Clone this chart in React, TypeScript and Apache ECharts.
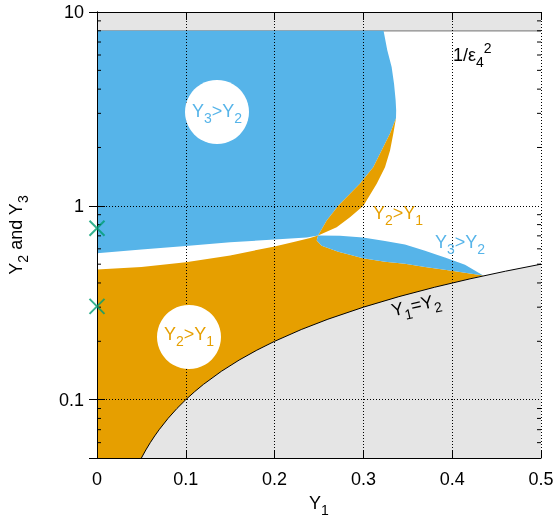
import React, { useEffect, useRef } from "react";
import * as echarts from "echarts";

const BLUE = "#56b4e9";
const ORANGE = "#e69f00";
const GREEN = "#009e73";
const GREY = "#e5e5e5";
const FONT = "'Liberation Sans', Arial, Helvetica, sans-serif";

// axis ranges
const xMin = 0;
const xMax = 0.5;
const xInterval = 0.1;
const yMin = 0.05;
const yMax = 10;
const yTickLabels = [0.1, 1, 10];
const minorTickValues = [0.06, 0.07, 0.08, 0.09, 0.2, 0.3, 0.4, 0.5, 0.6, 0.7, 0.8, 0.9, 2, 3, 4, 5, 6, 7, 8, 9];

// 1/eps4^2 limit
const epsilonLimit = 8;

// green markers at Y1 = 0
const markerY = [0.766, 0.303];

// Y1 = Y2 curve
const equalLine: number[][] = [
  [0.05, 0.05], [0.055, 0.055], [0.06, 0.06], [0.065, 0.065], [0.07, 0.07], [0.08, 0.08],
  [0.09, 0.09], [0.1, 0.1], [0.11, 0.11], [0.12, 0.12], [0.14, 0.14], [0.16, 0.16],
  [0.18, 0.18], [0.2, 0.2], [0.23, 0.23], [0.26, 0.26], [0.3, 0.3], [0.34, 0.34],
  [0.38, 0.38], [0.42, 0.42], [0.46, 0.46], [0.5, 0.5],
];

// upper edge of the lower orange region (Y2>Y1)
const orangeTopEdge: number[][] = [
  [0, 0.469], [0.05, 0.483], [0.1, 0.511], [0.15, 0.555], [0.2, 0.617],
  [0.225, 0.657], [0.24, 0.683], [0.249, 0.702],
];
// lower edge of the big blue region (Y3>Y2)
const blueBottomEdge: number[][] = [
  [0, 0.569], [0.05, 0.595], [0.1, 0.621], [0.15, 0.649], [0.2, 0.67], [0.236, 0.687], [0.249, 0.702],
];
// right edge of the big blue region, above the wedge tip
const blueOuterEdge: number[][] = [
  [0.3227, 8], [0.3269, 6.35], [0.3318, 5.2], [0.3345, 4.27], [0.3363, 3.5], [0.3369, 3.1], [0.3367, 2.83],
];
// orange wedge: outer (right) edge, from tip to crossing
const wedgeOuterEdge: number[][] = [
  [0.3367, 2.83], [0.3337, 2.36], [0.33, 1.93], [0.3243, 1.58], [0.315, 1.3], [0.3, 1.0],
  [0.2849, 0.873], [0.2699, 0.775], [0.249, 0.702],
];
// orange wedge: inner (left) edge, from tip to crossing
const wedgeInnerEdge: number[][] = [
  [0.3367, 2.83], [0.33, 2.36], [0.3111, 1.58], [0.296, 1.3], [0.2717, 1.0], [0.2587, 0.839], [0.249, 0.702],
];
// small blue lens (Y3>Y2)
const lensTopEdge: number[][] = [
  [0.249, 0.702], [0.2736, 0.701], [0.2995, 0.686], [0.3243, 0.658], [0.3468, 0.631],
  [0.3694, 0.586], [0.3919, 0.541], [0.4144, 0.497], [0.435, 0.437],
];
const lensBottomEdge: number[][] = [
  [0.249, 0.702], [0.2474, 0.662], [0.253, 0.623], [0.2717, 0.58], [0.2995, 0.537],
  [0.3243, 0.515], [0.3468, 0.503], [0.3694, 0.483], [0.3994, 0.463], [0.435, 0.437],
];

const tip = lensTopEdge[lensTopEdge.length - 1];

const topBand = [[xMin, epsilonLimit], [xMax, epsilonLimit], [xMax, yMax], [xMin, yMax]];
const greyLower = [...equalLine, [xMax, yMin]];
const orangeLower = [
  [xMin, yMin],
  ...orangeTopEdge,
  ...lensBottomEdge.slice(1),
  ...equalLine.filter((p) => p[0] < tip[0]).reverse(),
];
const bigBlue = [
  [xMin, epsilonLimit],
  ...blueOuterEdge,
  ...wedgeInnerEdge.slice(1),
  ...blueBottomEdge.slice().reverse().slice(1),
];
const wedge = [...wedgeOuterEdge, ...wedgeInnerEdge.slice().reverse().slice(1, -1)];
const lens = [...lensTopEdge, ...lensBottomEdge.slice().reverse().slice(1, -1)];

// rich styles for axis names (echarts text style)
const richAxis = (color: string) => ({
  a: { fontSize: 18, lineHeight: 28, verticalAlign: "middle", color, fontFamily: FONT },
  s: { fontSize: 14, verticalAlign: "bottom", color, fontFamily: FONT },
  p: { fontSize: 14, verticalAlign: "top", color, fontFamily: FONT },
});
// rich styles for graphic texts (zrender style)
const richG = (color: string) => ({
  a: { fontSize: 18, lineHeight: 28, verticalAlign: "middle", fill: color, fontFamily: FONT },
  s: { fontSize: 14, verticalAlign: "bottom", fill: color, fontFamily: FONT },
  p: { fontSize: 14, verticalAlign: "top", fill: color, fontFamily: FONT },
});

function polygonSeries(name: string, pts: number[][], fill: string, z: number, edge?: string) {
  return {
    type: "custom",
    name,
    coordinateSystem: "cartesian2d",
    xAxisIndex: 0,
    yAxisIndex: 0,
    data: [[pts[0][0], pts[0][1]]],
    z,
    silent: true,
    clip: true,
    renderItem: (_params: any, api: any) => {
      const points = pts.map((p) => api.coord(p));
      const children: any[] = [
        { type: "polygon", shape: { points }, style: { fill, stroke: null } },
      ];
      if (edge) {
        const a = api.coord([xMin, epsilonLimit]);
        const b = api.coord([xMax, epsilonLimit]);
        children.push({
          type: "line",
          shape: { x1: a[0], y1: a[1], x2: b[0], y2: b[1] },
          style: { stroke: edge, lineWidth: 1.2 },
        });
      }
      return { type: "group", children };
    },
  };
}

export default function App() {
  const ref = useRef<HTMLDivElement>(null);
  useEffect(() => {
    if (!ref.current) return;
    const chart = echarts.init(ref.current, undefined, { renderer: "svg" });
    const axisLineStyle = { color: "#000", width: 1 };
    const gridStyle = { color: "#000", width: 1, type: [1, 2] as any };
    const yLabelFormatter = (v: number) => {
      const hit = yTickLabels.find((t) => Math.abs(Math.log10(v) - Math.log10(t)) < 1e-6);
      return hit === undefined ? "" : String(hit);
    };
    const option: any = {
      animation: false,
      textStyle: { fontFamily: FONT },
      grid: { left: 97, right: 18, top: 12, bottom: 61, containLabel: false, outerBoundsMode: "none" },
      xAxis: [
        {
          type: "value",
          min: xMin,
          max: xMax,
          interval: xInterval,
          position: "bottom",
          z: 3,
          axisLine: { lineStyle: axisLineStyle },
          axisTick: { inside: true, length: 8, lineStyle: axisLineStyle },
          axisLabel: { fontSize: 18, color: "#000", margin: 12, fontFamily: FONT },
          splitLine: { show: true, lineStyle: gridStyle },
          name: "{a|Y}{s|1}",
          nameLocation: "middle",
          nameGap: 31,
          nameTextStyle: { rich: richAxis("#000") },
        },
        {
          type: "value",
          min: xMin,
          max: xMax,
          interval: xInterval,
          position: "top",
          z: 3,
          axisLine: { lineStyle: axisLineStyle },
          axisTick: { inside: true, length: 8, lineStyle: axisLineStyle },
          axisLabel: { show: false },
          splitLine: { show: false },
        },
      ],
      yAxis: [
        {
          type: "log",
          logBase: 10,
          min: yMin,
          max: yMax,
          position: "left",
          z: 3,
          axisLine: { lineStyle: axisLineStyle },
          axisTick: { inside: true, length: 8, lineStyle: axisLineStyle },
          axisLabel: { fontSize: 18, color: "#000", margin: 13, fontFamily: FONT, formatter: yLabelFormatter, showMinLabel: false },
          splitLine: { show: true, lineStyle: gridStyle },
          name: "{a|Y}{s|2}{a| and Y}{s|3}",
          nameLocation: "middle",
          nameGap: 67,
          nameTextStyle: { rich: richAxis("#000") },
        },
        {
          type: "log",
          logBase: 10,
          min: yMin,
          max: yMax,
          position: "right",
          z: 3,
          axisLine: { lineStyle: axisLineStyle },
          axisTick: { inside: true, length: 8, lineStyle: axisLineStyle },
          axisLabel: { show: false },
          splitLine: { show: false },
        },
      ],
      series: [
        polygonSeries("band", topBand, GREY, 1, "#8a8a8a"),
        polygonSeries("grey", greyLower, GREY, 1),
        polygonSeries("Y3>Y2 upper", bigBlue, BLUE, 1),
        polygonSeries("Y2>Y1 lower", orangeLower, ORANGE, 1),
        polygonSeries("Y2>Y1 wedge", wedge, ORANGE, 1),
        polygonSeries("Y3>Y2 lens", lens, BLUE, 1),
        {
          type: "line",
          name: "Y1=Y2",
          data: equalLine,
          showSymbol: false,
          symbol: "none",
          lineStyle: { color: "#000", width: 1 },
          z: 4,
          silent: true,
        },
        {
          type: "custom",
          name: "minor ticks",
          coordinateSystem: "cartesian2d",
          data: minorTickValues.map((v) => [xMin, v]),
          z: 5,
          silent: true,
          clip: false,
          renderItem: (_params: any, api: any) => {
            const v = api.value(1);
            const l = api.coord([xMin, v]);
            const r = api.coord([xMax, v]);
            return {
              type: "group",
              children: [
                { type: "line", shape: { x1: l[0], y1: l[1], x2: l[0] + 4, y2: l[1] }, style: { stroke: "#000", lineWidth: 1 } },
                { type: "line", shape: { x1: r[0] - 4, y1: r[1], x2: r[0], y2: r[1] }, style: { stroke: "#000", lineWidth: 1 } },
              ],
            };
          },
        },
        {
          type: "scatter",
          name: "markers",
          data: markerY.map((v) => [xMin, v]),
          symbol: "path://M0,0L10,10M10,0L0,10",
          symbolSize: 15,
          itemStyle: { color: "rgba(0,0,0,0)", borderColor: GREEN, borderWidth: 2 },
          z: 6,
          clip: false,
          silent: true,
        },
      ],
      graphic: [
        { type: "circle", z: 100, shape: { cx: 217, cy: 112, r: 32 }, style: { fill: "#fff" } },
        { type: "text", z: 101, x: 217, y: 111, style: { text: "{a|Y}{s|3}{a|>Y}{s|2}", rich: richG(BLUE), align: "center", verticalAlign: "middle" } },
        { type: "circle", z: 100, shape: { cx: 189, cy: 337, r: 32 }, style: { fill: "#fff" } },
        { type: "text", z: 101, x: 189, y: 334, style: { text: "{a|Y}{s|2}{a|>Y}{s|1}", rich: richG(ORANGE), align: "center", verticalAlign: "middle" } },
        { type: "text", z: 101, x: 373, y: 213, style: { text: "{a|Y}{s|2}{a|>Y}{s|1}", rich: richG(ORANGE), align: "left", verticalAlign: "middle" } },
        { type: "text", z: 101, x: 435, y: 242, style: { text: "{a|Y}{s|3}{a|>Y}{s|2}", rich: richG(BLUE), align: "left", verticalAlign: "middle" } },
        { type: "text", z: 101, x: 453, y: 55, style: { text: "{a|1/ε}{s|4}{p|2}", rich: richG("#000"), align: "left", verticalAlign: "middle" } },
        { type: "text", z: 101, x: 416, y: 305, rotation: (13 * Math.PI) / 180, style: { text: "{a|Y}{s|1}{a|=Y}{s|2}", rich: richG("#000"), align: "center", verticalAlign: "middle" } },
      ],
    };
    chart.setOption(option);
    return () => chart.dispose();
  }, []);
  return <div ref={ref} style={{ position: "fixed", left: 0, top: 0, width: 559, height: 519 }} />;
}
